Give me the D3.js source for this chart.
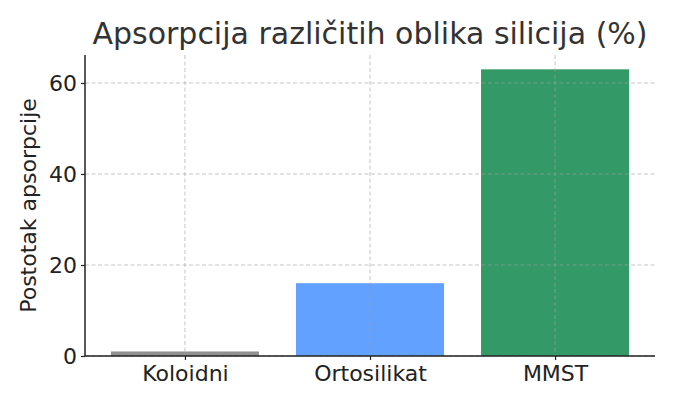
<!DOCTYPE html>
<html><head><meta charset="utf-8">
<script src="https://cdn.jsdelivr.net/npm/d3@7"></script>
<style>body{margin:0;background:#fff}svg{display:block}text{font-family:"DejaVu Sans",sans-serif}</style>
</head><body><div id="chart"></div>
<script>
const categories = ["Koloidni", "Ortosilikat", "MMST"];
const values = [1, 16, 63];
const colors = ["#919191", "#62a1ff", "#339966"];
const yTicks = [0, 20, 40, 60];
const title = "Apsorpcija različitih oblika silicija (%)";
const yLabel = "Postotak apsorpcije";

const W = 675, H = 405;
const m = {left: 85, right: 20, top: 55, bottom: 49};
const svg = d3.select("#chart").append("svg").attr("width", W).attr("height", H);
const iw = W - m.left - m.right, ih = H - m.top - m.bottom;
const g = svg.append("g").attr("transform", `translate(${m.left},${m.top})`);

const n = categories.length;
const x = d3.scaleLinear().domain([-0.54, n - 1 + 0.54]).range([0, iw]);
const y = d3.scaleLinear().domain([0, d3.max(values) * 1.05]).range([ih, 0]);
const bw = x(0.4) - x(-0.4);

g.selectAll("rect.bar").data(values).join("rect")
  .attr("class", "bar")
  .attr("x", (d, i) => x(i) - bw / 2)
  .attr("width", bw)
  .attr("y", d => y(d))
  .attr("height", d => ih - y(d))
  .attr("fill", (d, i) => colors[i]);

// grid
const grid = g.append("g").attr("stroke", "#a0a0a0").attr("stroke-opacity", 0.6)
  .attr("stroke-dasharray", "4,2.5").attr("stroke-width", 1);
grid.selectAll("line.h").data(yTicks).join("line")
  .attr("x1", 0).attr("x2", iw).attr("y1", d => y(d)).attr("y2", d => y(d));
grid.selectAll("line.v").data(categories).join("line")
  .attr("y1", 0).attr("y2", ih).attr("x1", (d, i) => x(i)).attr("x2", (d, i) => x(i));

// axes
const yAxis = g.append("g")
  .call(d3.axisLeft(y).tickValues(yTicks).tickSize(4).tickPadding(4).tickFormat(d3.format("d")));
const xAxis = g.append("g").attr("transform", `translate(0,${ih})`)
  .call(d3.axisBottom(x).tickValues(d3.range(n)).tickSize(4).tickPadding(5).tickFormat(i => categories[i]));
[yAxis, xAxis].forEach(a => {
  a.attr("font-size", null);
  a.select(".domain").attr("stroke", "#222").attr("stroke-width", 1.5);
  a.selectAll(".tick line").attr("stroke", "#222").attr("stroke-width", 1.2);
  a.selectAll(".tick text").attr("fill", "#222").style("font-size", "22px");
});
yAxis.select(".domain").attr("d", `M0,${ih}V0`);
xAxis.select(".domain").attr("d", `M0,0H${iw}`);

svg.append("text").attr("x", m.left + iw / 2).attr("y", 44).attr("text-anchor", "middle")
  .attr("fill", "#333").style("font-size", "30px").text(title);
svg.append("text").attr("transform", `translate(36,${m.top + ih / 2}) rotate(-90)`)
  .attr("text-anchor", "middle").attr("fill", "#222").style("font-size", "22px").text(yLabel);
</script></body></html>
